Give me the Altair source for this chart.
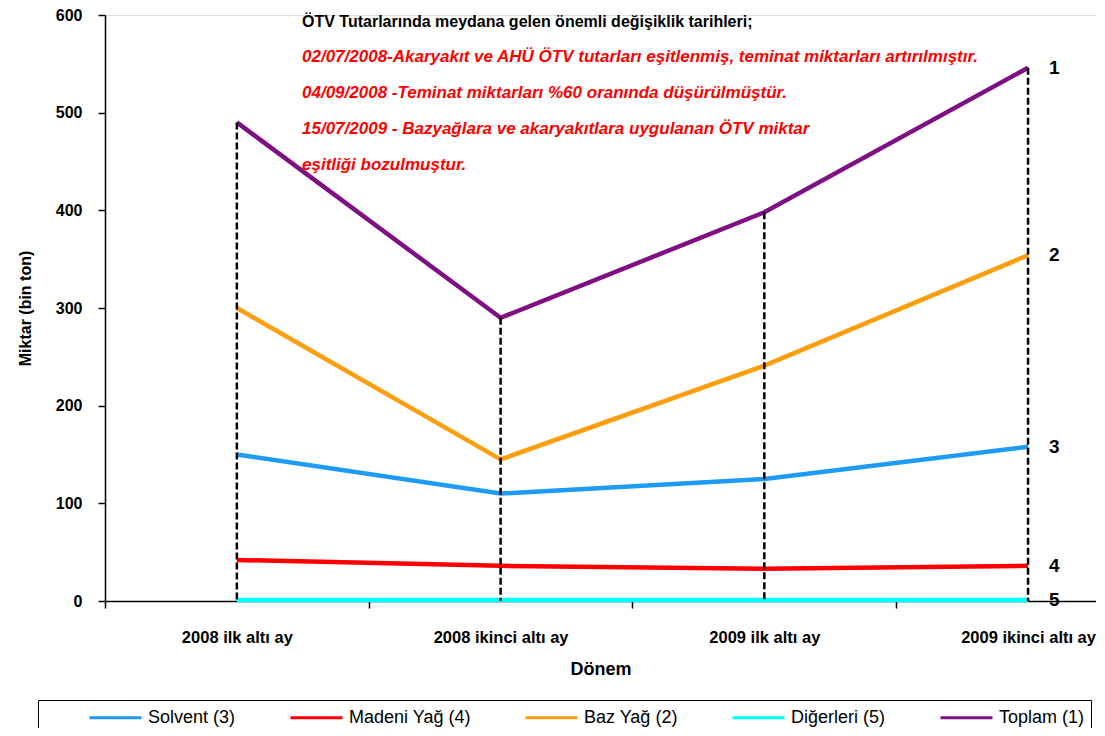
import json
import altair as alt
import pandas as pd

# ---- data ----
categories = ["2008 ilk altı ay", "2008 ikinci altı ay", "2009 ilk altı ay", "2009 ikinci altı ay"]
series_names = ["Solvent (3)", "Madeni Yağ (4)", "Baz Yağ (2)", "Diğerleri (5)", "Toplam (1)"]
series_colors = ["#1E9BF5", "#FF0000", "#FF9E0D", "#00FFFF", "#7E1084"]
end_labels = ["3", "4", "2", "5", "1"]

solvent = [150, 110, 125, 158]
madeni = [42, 36, 33, 36]
baz = [300, 145, 241, 354]
diger = [1, 1, 1, 1]
toplam = [490, 290, 398, 546]

y_ticks = [0, 100, 200, 300, 400, 500, 600]

note_title = "ÖTV Tutarlarında meydana gelen önemli değişiklik tarihleri;"
note_lines = [
    "02/07/2008-Akaryakıt  ve AHÜ ÖTV tutarları eşitlenmiş, teminat miktarları artırılmıştır.",
    "04/09/2008  -Teminat miktarları %60 oranında düşürülmüştür.",
    "15/07/2009  - Bazyağlara ve akaryakıtlara uygulanan ÖTV miktar",
    "eşitliği bozulmuştur.",
]

# ---- tables ----
all_series = [solvent, madeni, baz, diger, toplam]
rows = []
for name, vals in zip(series_names, all_series):
    for i, v in enumerate(vals):
        rows.append({"idx": i, "kategori": categories[i], "seri": name, "deger": v})
df = pd.DataFrame(rows)

df_tot = pd.DataFrame({"idx": list(range(len(categories))), "toplam": toplam})
df_end = pd.DataFrame({
    "idx": [len(categories) - 1] * len(series_names),
    "deger": [vals[-1] for vals in all_series],
    "etiket": end_labels,
})

FONT = "Liberation Sans"

cat_js = json.dumps(categories, ensure_ascii=False).replace('"', "'")
label_expr = f"(datum.value % 1 == 0 && datum.value >= 0) ? {cat_js}[datum.value] : ''"

x_scale = alt.Scale(domain=[-0.5, 3.2576], nice=False, zero=False)
y_scale = alt.Scale(domain=[0, 600], nice=False)

x_axis = alt.Axis(
    values=[-0.5, 0, 0.5, 1, 1.5, 2, 2.5, 3],
    labelExpr=label_expr,
    title="Dönem",
    grid=False,
    domainColor="black",
    domainWidth=1.5,
    tickColor="black",
    tickWidth=1.5,
    tickSize=7,
    tickOpacity={"condition": {"test": "datum.value % 1 != 0", "value": 1}, "value": 0},
    labelFont=FONT,
    labelFontSize=16.5,
    labelFontWeight="bold",
    labelColor="black",
    labelPadding=21,
    labelFlush=False,
    labelOverlap=False,
    titleFont=FONT,
    titleFontSize=18,
    titleFontWeight="bold",
    titleColor="black",
    titlePadding=15,
)

y_axis = alt.Axis(
    values=y_ticks,
    title="Miktar (bin ton)",
    grid=False,
    domainColor="black",
    domainWidth=1.5,
    tickColor="black",
    tickWidth=1.5,
    tickSize=7,
    labelFont=FONT,
    labelFontSize=16,
    labelFontWeight="bold",
    labelColor="black",
    labelPadding=16,
    titleFont=FONT,
    titleFontSize=16,
    titleFontWeight="bold",
    titleColor="black",
    titlePadding=22,
)

legend = alt.Legend(
    orient="none",
    legendX=-67,
    legendY=685,
    direction="horizontal",
    title="\u00a0",
    titleOrient="left",
    titleFontSize=4,
    titlePadding=60,
    symbolType="M-2.6,0H2.6",
    symbolSize=400,
    symbolStrokeWidth=3,
    labelFont=FONT,
    labelFontSize=18,
    labelColor="black",
    labelOffset=21,
    columnPadding=48,
    strokeColor="black",
    padding=6,
    fillColor="white",
)

lines = alt.Chart(df).mark_line(strokeWidth=4.5).encode(
    x=alt.X("idx:Q", scale=x_scale, axis=x_axis),
    y=alt.Y("deger:Q", scale=y_scale, axis=y_axis),
    color=alt.Color("seri:N", scale=alt.Scale(domain=series_names, range=series_colors),
                    sort=series_names, legend=legend),
    detail="seri:N",
)

rules = alt.Chart(df_tot).mark_rule(color="black", strokeWidth=2.5, strokeDash=[7, 3]).encode(
    x=alt.X("idx:Q", scale=x_scale),
    y=alt.Y("toplam:Q", scale=y_scale),
    y2=alt.datum(0),
)

end_text = alt.Chart(df_end).mark_text(
    align="left", baseline="middle", dx=21, font=FONT, fontSize=19, fontWeight="bold", color="black"
).encode(
    x=alt.X("idx:Q", scale=x_scale),
    y=alt.Y("deger:Q", scale=y_scale),
    text="etiket:N",
)

chart = alt.layer(lines, rules, end_text).properties(
    width=991,
    height=586,
    padding={"left": 97, "top": 7, "right": 0, "bottom": 127},
    autosize=alt.AutoSizeParams(type="none"),
    title=alt.TitleParams(
        text=note_title,
        subtitle=note_lines,
        anchor="start",
        frame="group",
        orient="top",
        offset=0,
        dx=197,
        dy=166,
        font=FONT,
        fontSize=16,
        fontWeight="bold",
        color="black",
        subtitleFont=FONT,
        subtitleFontSize=17,
        subtitleFontWeight="bold",
        subtitleFontStyle="italic",
        subtitleColor="#FF0000",
        subtitleLineHeight=36,
        subtitlePadding=19,
    ),
).configure_view(stroke=None).configure(background="white")

chart.save("out.html", embed_options={"renderer": "svg", "actions": False})
